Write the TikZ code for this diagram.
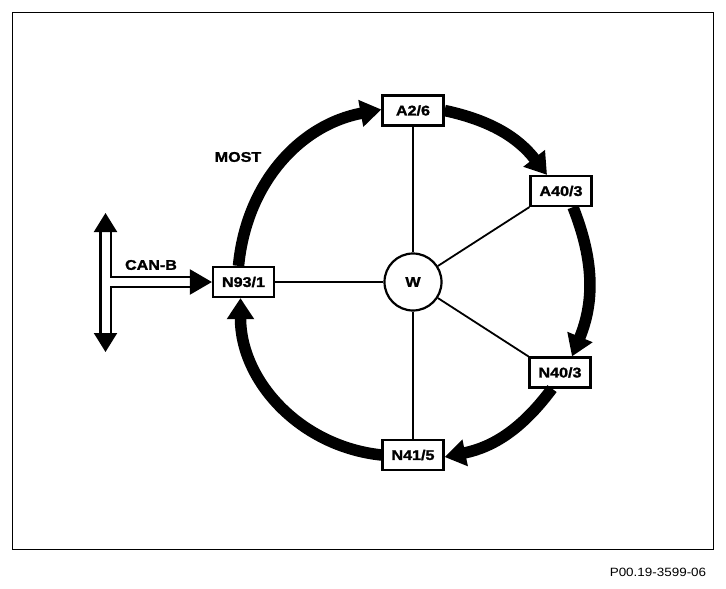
\documentclass[tikz,border=0pt]{standalone}
\usepackage{fontspec}
\setmainfont{Liberation Sans}
\newfontfamily\boxfont{Liberation Sans}[FakeStretch=1.15,BoldFeatures={FakeBold=1.5}]
\newfontfamily\capfont{Liberation Sans}[FakeStretch=1.12]
\usetikzlibrary{arrows.meta}
\begin{document}
\begin{tikzpicture}[x=1pt,y=-1pt,
  unit/.style={draw,line width=2.2pt,fill=white,minimum width=61pt,minimum height=30pt,inner sep=0pt,font=\boxfont\fontsize{14}{16}\selectfont\bfseries},
  spoke/.style={line width=1.8pt},
  ring/.style={line width=11.5pt,-{Triangle[length=21pt,width=26pt]}},
  canbus/.style={double,line width=2.2pt,double distance=8pt},
  tag/.style={font=\boxfont\fontsize{14}{16}\selectfont\bfseries}]
 \useasboundingbox (0,0) rectangle (726,589);
 \draw[line width=0.9pt] (12,12) rectangle (713,549);
 \node[font=\capfont\fontsize{12}{14}\selectfont] (ref) at (658,572) {P00.19-3599-06};
 \node[draw,circle,line width=2.2pt,minimum size=57pt,inner sep=0pt,font=\boxfont\fontsize{14}{16}\selectfont\bfseries] (w) at (413,282) {W};
 \node[unit] (a26) at (413,110.5) {A2/6};
 \node[unit] (a403) at (561,191) {A40/3};
 \node[unit] (n403) at (560,372.5) {N40/3};
 \node[unit] (n415) at (413,455) {N41/5};
 \node[unit] (n93) at (243.5,282) {N93/1};
 \draw[spoke] (w) -- (a26);
 \draw[spoke] (w) -- (n415);
 \draw[spoke] (w) -- (n93);
 \draw[spoke] (w) -- (a403.south west);
 \draw[spoke] (w) -- (n403.north west);
 \draw[ring] ([xshift=-5pt]n93.north) to[bend left=37] ([yshift=1pt]a26.west);
 \draw[ring] (a26.east) to[bend left=20] ([xshift=-14pt]a403.north);
 \draw[ring] ([xshift=12pt]a403.south) to[bend left=22] ([xshift=12pt]n403.north);
 \draw[ring] ([xshift=-8pt]n403.south) to[bend left=21] ([yshift=-2pt]n415.east);
 \draw[ring] (n415.west) to[bend left=42] ([xshift=-3pt]n93.south);
 \node[tag] (most) at (238,157) {MOST};
 \coordinate (bustop) at (105.5,213);
 \coordinate (busbot) at (105.5,352);
 \coordinate (canb) at (110,282);
 \draw[canbus,{Triangle[length=19pt,width=23pt]}-{Triangle[length=19pt,width=23pt]}] (bustop) -- (busbot);
 \draw[canbus,-{Triangle[length=22pt,width=25pt]}] (canb) -- (n93.west);
 \node[tag] (canlbl) at (151,265) {CAN-B};
\end{tikzpicture}
\end{document}
